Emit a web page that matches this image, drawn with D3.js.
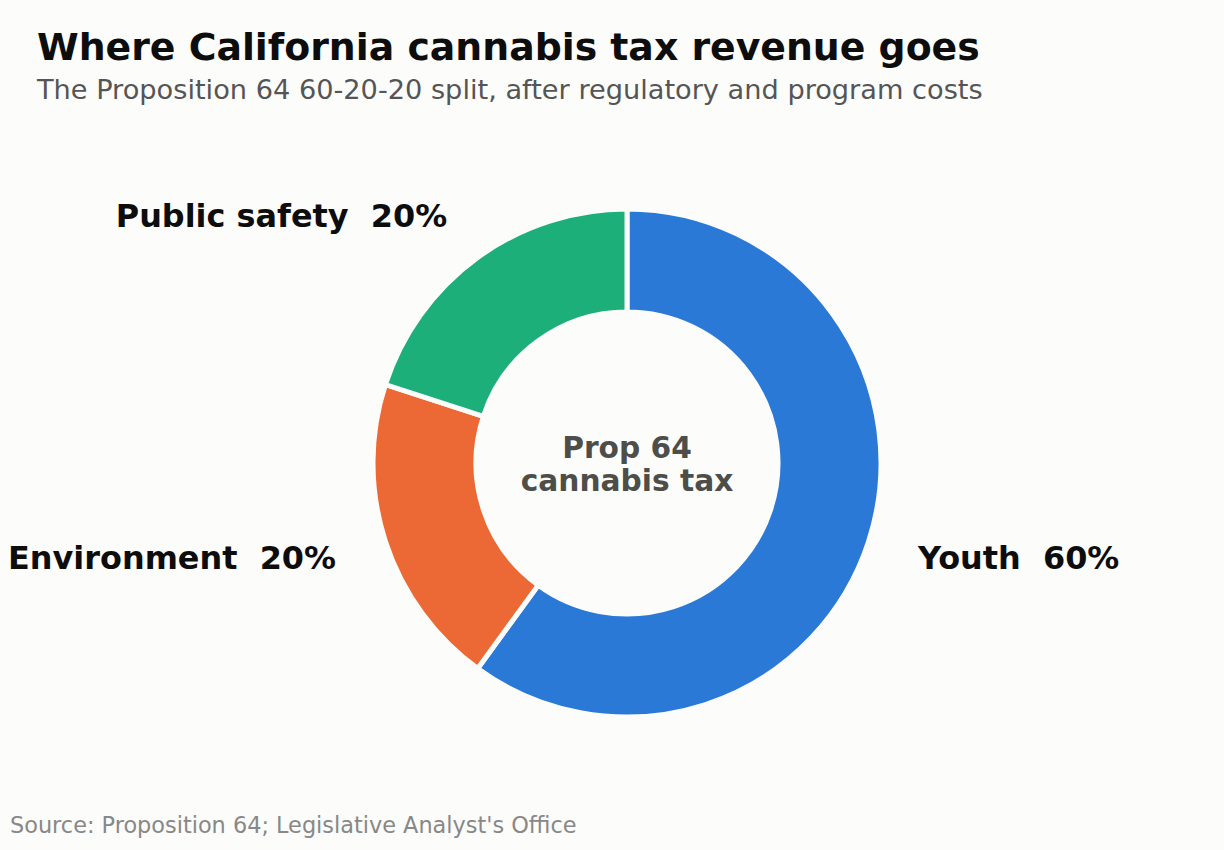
<!DOCTYPE html>
<html>
<head>
<meta charset="utf-8">
<script src="https://cdn.jsdelivr.net/npm/d3@7"></script>
<style>
  html, body { margin: 0; padding: 0; background: #fcfcfb; }
  svg { display: block; font-family: "DejaVu Sans", sans-serif; }
</style>
</head>
<body>
<div id="chart"></div>
<script>
// Prop 64 split
const categories = ["Youth", "Environment", "Public safety"];
const shares = [60, 20, 20];
const colors = ["#2a79d6", "#ec6935", "#1caf7a"];

const W = 1224, H = 850;
const cx = 627, cy = 463;
const outerR = 254, innerR = 151;

const svg = d3.select("#chart")
    .append("svg")
    .attr("width", W)
    .attr("height", H);

svg.append("rect").attr("width", W).attr("height", H).attr("fill", "#fcfcfb");

// Titles
svg.append("text")
    .attr("x", 37).attr("y", 60)
    .attr("font-size", 37.8).attr("font-weight", "bold")
    .attr("fill", "#0d0d0d")
    .text("Where California cannabis tax revenue goes");

svg.append("text")
    .attr("x", 37).attr("y", 99)
    .attr("font-size", 27.2)
    .attr("fill", "#555555")
    .text("The Proposition 64 60-20-20 split, after regulatory and program costs");

const data = categories.map((c, i) => ({ name: c, value: shares[i], color: colors[i] }));

const pie = d3.pie().value(d => d.value).sort(null);
const arc = d3.arc().innerRadius(innerR).outerRadius(outerR);

const g = svg.append("g").attr("transform", `translate(${cx},${cy})`);

const arcs = pie(data);

g.selectAll("path")
    .data(arcs)
    .join("path")
    .attr("d", arc)
    .attr("fill", d => d.data.color)
    .attr("stroke", "#fcfcfb")
    .attr("stroke-width", 5);

// Labels outside the ring
const labelR = 306;
g.selectAll(".slice-label")
    .data(arcs)
    .join("text")
    .attr("class", "slice-label")
    .each(function(d) {
        const a = (d.startAngle + d.endAngle) / 2;
        const x = labelR * Math.sin(a);
        const y = -labelR * Math.cos(a);
        d3.select(this)
            .attr("x", x).attr("y", y)
            .attr("text-anchor", x >= 0 ? "start" : "end");
    })
    .attr("dy", "0.36em")
    .attr("font-size", 31.9).attr("font-weight", "bold")
    .attr("fill", "#0d0d0d")
    .attr("xml:space", "preserve")
    .style("white-space", "pre")
    .text(d => `${d.data.name}  ${d.data.value}%`);

// Center label
const center = g.append("text")
    .attr("text-anchor", "middle")
    .attr("font-size", 29.7).attr("font-weight", "bold")
    .attr("fill", "#4d4d4a");
center.append("tspan").attr("x", 0).attr("y", -5).text("Prop 64");
center.append("tspan").attr("x", 0).attr("y", 28).text("cannabis tax");

// Source
svg.append("text")
    .attr("x", 10).attr("y", 833)
    .attr("font-size", 22.4)
    .attr("fill", "#888888")
    .text("Source: Proposition 64; Legislative Analyst's Office");
</script>
</body>
</html>
